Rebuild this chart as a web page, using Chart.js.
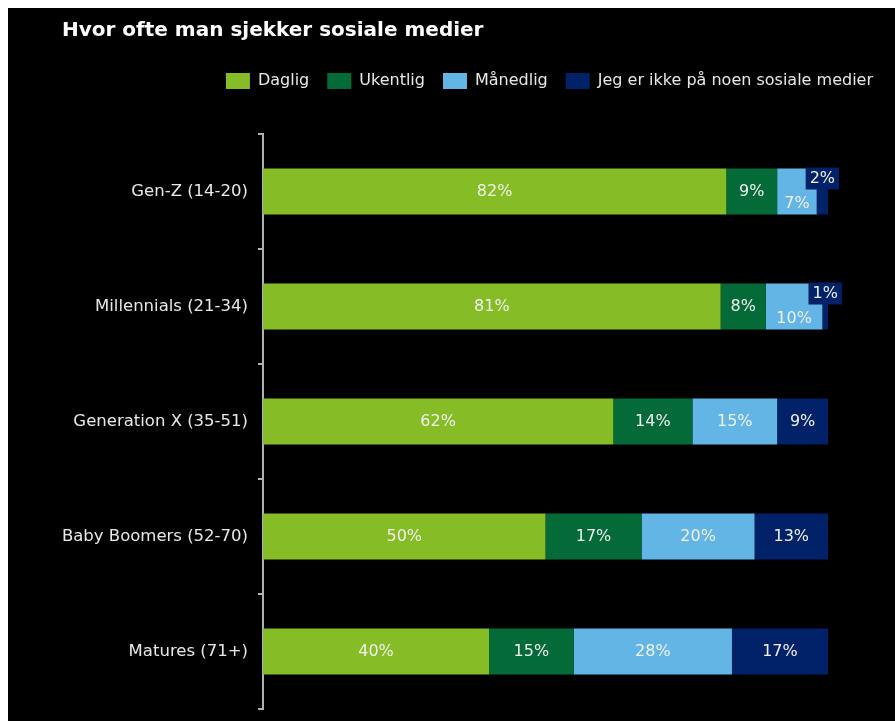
<!DOCTYPE html>
<html>
<head>
<meta charset="utf-8">
<script src="https://cdn.jsdelivr.net/npm/chart.js@4"></script>
<style>
    body { margin: 0; background: #fff; }
    #wrap { position: absolute; left: 8px; top: 8px; width: 887px; height: 713px; background: #000; }
</style>
</head>
<body>
<div id="wrap"><canvas id="chart"></canvas></div>
<script>
const groups = ["Gen-Z (14-20)", "Millennials (21-34)", "Generation X (35-51)", "Baby Boomers (52-70)", "Matures (71+)"];
const daily = [82, 81, 62, 50, 40];
const weekly = [9, 8, 14, 17, 15];
const monthly = [7, 10, 15, 20, 28];
const never = [2, 1, 9, 13, 17];
const seriesNames = ["Daglig", "Ukentlig", "Månedlig", "Jeg er ikke på noen sosiale medier"];
const seriesColors = ["#86bc25", "#046a38", "#62b5e5", "#012169"];

Chart.defaults.font.family = '"DejaVu Sans", Verdana, sans-serif';
Chart.defaults.color = "#e8e8e8";

// values inside the bars; tiny segments get a boxed label in the upper half
const barLabels = {
    id: "barLabels",
    afterDatasetsDraw(chart) {
        const ctx = chart.ctx;
        const sets = chart.data.datasets;
        ctx.save();
        ctx.font = '16px "DejaVu Sans", Verdana, sans-serif';
        ctx.textAlign = "center";
        ctx.textBaseline = "middle";
        sets.forEach((ds, di) => {
            chart.getDatasetMeta(di).data.forEach((bar, i) => {
                const v = ds.data[i];
                const p = bar.getProps(["x", "y", "base", "height"], true);
                const cx = (p.x + p.base) / 2;
                const text = v + "%";
                let cy = p.y;
                if (v < 5) {
                    cy = p.y - p.height / 2 + 10;
                    const w = ctx.measureText(text).width + 8;
                    ctx.fillStyle = ds.backgroundColor;
                    ctx.fillRect(cx - w / 2, cy - 11, w, 22);
                } else if (sets[di + 1] && sets[di + 1].data[i] < 5) {
                    cy = p.y + 12;
                }
                ctx.fillStyle = "#f0f0f0";
                ctx.fillText(text, cx, cy);
            });
        });
        ctx.restore();
    }
};

new Chart(document.getElementById("chart"), {
    type: "bar",
    data: {
        labels: groups,
        datasets: [daily, weekly, monthly, never].map((d, k) => ({
            label: seriesNames[k],
            data: d,
            backgroundColor: seriesColors[k],
            borderWidth: 0,
            barPercentage: 0.5,
            categoryPercentage: 0.8
        }))
    },
    options: {
        indexAxis: "y",
        responsive: true,
        maintainAspectRatio: false,
        animation: false,
        layout: { padding: { left: 54, right: 4, top: 0, bottom: 12 } },
        plugins: {
            title: {
                display: true,
                text: "Hvor ofte man sjekker sosiale medier",
                align: "start",
                color: "#ffffff",
                font: { size: 20, weight: "bold" },
                padding: { top: 11, bottom: 12 }
            },
            legend: {
                align: "end",
                labels: {
                    boxWidth: 24,
                    boxHeight: 16,
                    padding: 18,
                    color: "#e8e8e8",
                    font: { size: 16 }
                }
            },
            tooltip: { enabled: false }
        },
        scales: {
            x: {
                stacked: true,
                min: 0,
                max: 100,
                position: "top",
                grid: { display: false },
                border: { display: false },
                ticks: { display: false },
                afterFit: (s) => { s.height = 35; }
            },
            y: {
                stacked: true,
                grid: { drawOnChartArea: false, drawTicks: true, tickLength: 5, color: "#b0b0b0", lineWidth: 2 },
                border: { display: true, color: "#b0b0b0", width: 2 },
                ticks: { padding: 10, color: "#e8e8e8", font: { size: 16.5 } },
                afterFit: (s) => {
                    s.width = 201;
                    s.paddingTop = 0;
                    s.paddingBottom = 0;
                }
            },
            yRight: {
                type: "linear",
                axis: "y",
                position: "right",
                grid: { display: false },
                border: { display: false },
                ticks: { display: false },
                afterFit: (s) => { s.width = 63; }
            }
        }
    },
    plugins: [barLabels]
});
</script>
</body>
</html>
